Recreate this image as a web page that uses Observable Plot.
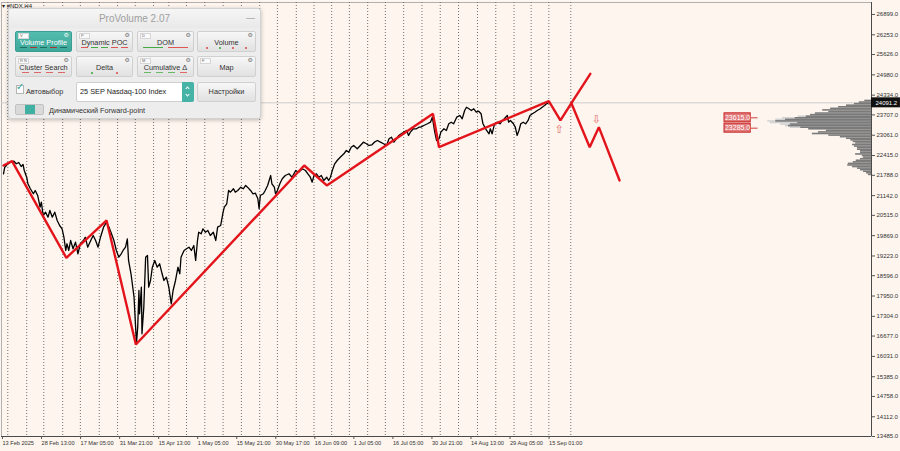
<!DOCTYPE html>
<html>
<head>
<meta charset="utf-8">
<script src="https://cdn.jsdelivr.net/npm/d3@7"></script>
<script src="https://cdn.jsdelivr.net/npm/@observablehq/plot@0.6"></script>
<style>
body{margin:0;background:#fdf5ee;}
#wrap{position:relative;width:900px;height:451px;overflow:hidden;background:#fdf5ee;font-family:"Liberation Sans",Arial,sans-serif;}
#chart svg{display:block;}
.a{position:absolute;box-sizing:border-box;}
.panel{left:8px;top:8px;width:253px;height:111px;background:#ededed;border:1px solid #d2d2d2;border-radius:3px;box-shadow:0 1px 4px rgba(0,0,0,0.25);}
.tbar{left:9px;top:9px;width:251px;height:19px;background:linear-gradient(#f6f6f6,#e9e9e9);border-radius:3px 3px 0 0;}
.title{left:8px;top:9px;width:253px;height:20px;text-align:center;font-size:10px;line-height:20px;color:#a0a0a0;}
.btn{background:linear-gradient(#f7f7f7,#e1e1e1);border:1px solid #d0d0d0;border-radius:2px;font-size:7.3px;color:#333;text-align:center;}
.btn.on{background:linear-gradient(#55bcae,#3da89a);border-color:#3a9f92;color:#fff;}
.tag{position:absolute;left:2px;top:1px;height:4px;min-width:7px;padding:0 1px;background:#fafafa;border:1px solid #d6d6d6;font-size:4px;line-height:4px;color:#666;text-align:left;}
.gear{position:absolute;right:2px;top:-1px;font-size:6px;color:#777;font-family:"DejaVu Sans";}
.lbl{position:absolute;left:0;right:0;top:6px;line-height:9px;}
.ind{position:absolute;left:3px;right:3px;bottom:2px;height:3px;display:flex;justify-content:space-around;align-items:center;}
.ind span{display:block;}
</style>
</head>
<body>
<div id="wrap">
  <div id="chart"></div>
  <div class="a" style="left:2px;top:2px;font-size:6px;color:#222;">▾ #NDX,H4</div>
  <div class="a panel"></div>
  <div class="a tbar"></div>
  <div class="a title">ProVolume 2.07</div>
  <div class="a" style="left:246px;top:13px;font-size:9px;color:#888;">—</div>
  <div id="btns"></div>
  <div class="a" style="left:16px;top:85px;width:8px;height:9px;background:#fff;border:1px solid #b5b5b5;"></div>
  <div class="a" style="left:16px;top:81px;font-size:10px;color:#2aa597;font-family:'DejaVu Sans';">✓</div>
  <div class="a" style="left:26px;top:87px;font-size:7.3px;color:#333;">Автовыбор</div>
  <div class="a" style="left:76px;top:82px;width:118px;height:20px;background:#fff;border:1px solid #cfcfcf;border-radius:2px;"></div>
  <div class="a" style="left:80px;top:87px;font-size:7.3px;color:#222;">25 SEP Nasdaq-100 Index</div>
  <div class="a" style="left:182px;top:82px;width:12px;height:20px;background:#45b3a5;border-radius:0 2px 2px 0;"></div>
  <div class="a" style="left:186px;top:87px;width:3px;height:3px;border-top:1px solid #fff;border-left:1px solid #fff;transform:rotate(45deg);"></div>
  <div class="a" style="left:186px;top:93px;width:3px;height:3px;border-bottom:1px solid #fff;border-right:1px solid #fff;transform:rotate(45deg);"></div>
  <div class="a btn" style="left:197px;top:82px;width:59px;height:20px;line-height:18px;">Настройки</div>
  <div class="a" style="left:15px;top:104px;width:29px;height:11px;background:#d9d9d9;border:1px solid #c2c2c2;border-radius:2px;"></div>
  <div class="a" style="left:25px;top:105px;width:10px;height:9px;background:#3fb0a1;"></div>
  <div class="a" style="left:49px;top:106px;font-size:7.3px;color:#333;">Динамический Forward-point</div>
</div>
<script>
// ---- data ----
const priceBars = [0,2,6,11,17,21,25,29,32,34,38,40,44,49,52,56,60,62,65,69,73,76,80,84,88,92,96,99,102,104,107,110,114,118,122,126,131,134,138,143,147,151,155,159,164,169,173,177,181,185,189,193,196,200,203,205,209,214,216,218,220,222,223,226,227,230,233,236,238,241,244,248,252,256,260,263,267,271,275,278,282,286,289,291,296,300,304,308,312,315,318,320,324,327,331,335,339,344,348,351,356,360,362,366,369,372,377,380,384,389,393,397,400,405,409,413,417,419,421,426,429,433,438,440,444,446,449,453,457,462,468,473,479,484,490,495,499,503,506,509,513,517,521,525,530,533,536,539,543,547,552,558,562,566,570,574,580,585,590,595,599,604,608,613,618,623,628,632,636,640,644,648,652,656,661,664,667,672,677,681,684,689,695,700,703,707,710,714,717,722,726,730,734,738,743,748,752,756,759,763,767,771,775,779,783,786,789,792,796,798,801,805,809,814,818,821,826,828,831,836,839,842,845,848,852,856,860,863,867,871,875,880,883,887,890,893];
const priceVals = [21836,22045,22131,22204,22236,22153,22195,22068,22131,21940,21727,21518,21359,21200,21305,21146,20774,20933,20510,20615,20456,20669,20456,20615,20351,20192,20087,19820,19398,19611,19398,19715,19452,19661,19293,19611,19715,19820,19502,19715,19874,19715,19502,19820,20138,20297,20138,19928,19715,19398,19185,19293,19398,19502,19769,19080,18657,17913,17172,16441,16960,18126,17386,18231,16750,17595,19184,19239,18231,18444,18867,19080,18867,18975,18657,18444,18549,18231,17703,18126,18444,18867,18657,19184,19398,19452,19502,19398,19556,19080,19715,19979,19928,20087,19979,20033,19874,19979,19715,20138,20192,20615,20774,20882,21305,21251,21359,21251,21305,21410,21359,21464,21410,21305,21200,21219,21041,20723,21146,21200,21305,21464,21781,21518,21410,21200,21305,21518,21677,21781,21836,21727,21940,21886,21994,21940,21836,21727,21568,21781,21836,21727,21781,21622,21727,21622,21727,21940,22153,22258,22363,22471,22576,22522,22681,22735,22630,22735,22840,22789,22735,22757,22840,22894,22840,22789,22735,22948,22999,22840,22948,23053,23107,23158,23212,23053,23158,23266,23266,23317,23317,23371,23425,23476,23635,23158,22894,22948,23158,23266,23212,23425,23476,23425,23635,23689,23584,23848,23952,23902,23848,23902,23794,23825,23743,23425,23317,23212,23107,23266,23107,23425,23476,23425,23530,23584,23689,23476,23530,23425,23317,23053,23212,23425,23476,23425,23530,23689,23743,23794,23848,23902,23952,24006,24060,24091.2];

const zigBars = [0,14,103,169,217,493,530,704,714,894,913,931,962];
const zigVals = [22099,22236,19165,20351,16410,22099,21464,23743,22681,24143,23530,24080,25014];
const altBars = [931,961,976,1010];
const altVals = [24080,22681,23317,21622];

const arrowBars = [911,972];
const arrowVals = [23244,23562];
const arrowGlyphs = ["⇧","⇩"];

const levelVals = [23615,23285];
const levelTexts = ["23615.0","23285.0"];
const levelBoxStart = 1182, levelBoxEnd = 1225, levelLineEnd = 1237;

const currentPrice = 24091.2;

const profPrices = [24150,24100,24050,24000,23950,23900,23850,23800,23750,23700,23650,23600,23550,23500,23450,23400,23350,23300,23250,23200,23150,23100,23050,23000,22950,22900,22850,22800,22750,22700,22650,22600,22550,22500,22450,22400,22350,22300,22250,22200,22150,22100,22050,22000,21950,21900,21850,21800];
const profVols = [11,20,28,41,54,67,80,70,92,100,107,125,141,157,121,133,136,116,103,74,87,97,70,51,41,34,30,26,31,28,23,23,18,18,26,15,13,18,25,30,38,39,31,23,18,13,8,5];
const tailPrices = [23650,23600,23550,23500,23450,23400,23350,23300];
const tailVols = [120,146,157,170,166,149,141,133];

const gridBars = [7,38,66,97,126,157,187,216,246,271,300,330,360,390,420,449,480,509,538,567,597,626,656,686,716,746,777,807,837,865,894,930];

const xTickBars = [0,64,128,192,256,320,384,448,512,576,640,704,768,832,896];
const xTickLabels = ["13 Feb 2025","28 Feb 13:00","17 Mar 05:00","31 Mar 21:00","15 Apr 13:00","1 May 05:00","15 May 21:00","30 May 17:00","16 Jun 09:00","1 Jul 05:00","16 Jul 05:00","30 Jul 21:00","14 Aug 13:00","29 Aug 05:00","15 Sep 01:00"];
const yTicks = [26899,26253,25626,24980,24334,23707,23061,22415,21788,21142,20515,19869,19223,18596,17950,17304,16677,16031,15385,14758,14112,13485];

// ---- build ----
const X_MIN = -3.3, X_MAX = 1423, Y_MIN = 13485, Y_MAX = 27280;
const price = priceBars.map((b,i)=>({bar:b, v:priceVals[i]}));
const zig = zigBars.map((b,i)=>({bar:b, v:zigVals[i], s:"a"})).concat(altBars.map((b,i)=>({bar:b, v:altVals[i], s:"b"})));
const arrows = arrowBars.map((b,i)=>({bar:b, v:arrowVals[i], g:arrowGlyphs[i]}));
const levels = levelVals.map((v,i)=>({v, t:levelTexts[i]}));
const prof = profPrices.map((p,i)=>({p, vol:profVols[i]}));
const tail = tailPrices.map((p,i)=>({p, vol:tailVols[i]}));
const xLab = new Map(xTickBars.map((b,i)=>[b, xTickLabels[i]]));
const pxPrice = 31.786; // price units per pixel

const chart = Plot.plot({
  width: 900, height: 451,
  marginTop: 2, marginRight: 29, marginBottom: 15, marginLeft: 1,
  style: {background: "transparent", fontFamily: "Liberation Sans, Arial, sans-serif", overflow: "visible"},
  x: {domain: [X_MIN, X_MAX], axis: null},
  y: {domain: [Y_MIN, Y_MAX], axis: null},
  marks: [
    Plot.frame({stroke: "#b0b0b0"}),
    Plot.ruleX(gridBars, {stroke: "#707070", strokeDasharray: "1,2"}),
    Plot.ruleY([currentPrice], {stroke: "#cdcdcd"}),
    Plot.rect(tail, {x1: d => X_MAX - d.vol, x2: X_MAX, y1: d => d.p - 25, y2: d => d.p + 25, fill: "#d2d2d2"}),
    Plot.rect(prof, {x1: d => X_MAX - d.vol, x2: X_MAX, y1: d => d.p - 25, y2: d => d.p + 25, fill: "#7a7a7a"}),
    Plot.line(price, {x: "bar", y: "v", stroke: "#000", strokeWidth: 1.3}),
    Plot.line(zig, {x: "bar", y: "v", z: "s", stroke: "#e3141b", strokeWidth: 2.4, strokeLinejoin: "miter"}),
    Plot.text(arrows, {x: "bar", y: "v", text: "g", fill: "#e56a6a", fontSize: 11, fontFamily: "DejaVu Sans"}),
    Plot.ruleY(levels, {y: "v", x1: levelBoxEnd, x2: levelLineEnd, stroke: "#d23c3c"}),
    Plot.rect(levels, {x1: levelBoxStart, x2: levelBoxEnd, y1: d => d.v - 4.5*pxPrice, y2: d => d.v + 4.5*pxPrice, fill: "#e27a7a", stroke: "#c82828"}),
    Plot.text(levels, {x: (levelBoxStart+levelBoxEnd)/2, y: "v", text: "t", fill: "#fff", fontSize: 7}),
    Plot.ruleX([X_MAX], {stroke: "#4a4a4a"}),
    Plot.ruleY([Y_MIN], {stroke: "#4a4a4a"}),
    Plot.axisY(yTicks, {anchor: "right", label: null, tickSize: 3, tickPadding: 2, tickFormat: d => d.toFixed(1), fontSize: 6, fill: "#333", stroke: "#555"}),
    Plot.axisX(xTickBars, {anchor: "bottom", label: null, tickSize: 3, tickPadding: 2, tickFormat: d => xLab.get(d), textAnchor: "start", dx: -1, fontSize: 5.6, fill: "#333", stroke: "#555"}),
    Plot.rect([currentPrice], {x1: X_MAX, x2: X_MAX + 47.5, y1: d => d - 5*pxPrice, y2: d => d + 5*pxPrice, fill: "#111"}),
    Plot.text([currentPrice], {x: X_MAX, y: d => d, text: d => d.toFixed(1), dx: 4, textAnchor: "start", fill: "#fff", fontSize: 6})
  ]
});
document.getElementById("chart").appendChild(chart);

// ---- ProVolume panel buttons ----
const buttons = [
  {t:"Volume Profile", tag:"V", l:15, top:31, w:57, on:true, ind:{type:"dash", c:["#1f6d62","#a33","#1f6d62","#a33","#1f6d62"]}},
  {t:"Dynamic POC", tag:"P", l:76, top:31, w:57, ind:{type:"dash", c:["#d55","#4a4","#4a4","#d55","#d55"]}},
  {t:"DOM", tag:"D", l:137, top:31, w:57, ind:{type:"long", c:["#4a4","#d55"]}},
  {t:"Volume", tag:"", l:197, top:31, w:59, ind:{type:"dot", c:["#d44","#3a3","#d44","#d44"]}},
  {t:"Cluster Search", tag:"R N", l:15, top:56, w:57, ind:{type:"dash", c:["#d66","#d66","#d66","#d66"]}},
  {t:"Delta", tag:"", l:76, top:56, w:57, ind:{type:"dot", c:["#3a3","#d44"]}},
  {t:"Cumulative Δ", tag:"M", l:137, top:56, w:57, ind:{type:"dash", c:["#6b6","#6b6","#6b6","#d66"]}},
  {t:"Map", tag:"F", l:197, top:56, w:59, ind:null}
];
const holder = document.getElementById("btns");
buttons.forEach(b => {
  const d = document.createElement("div");
  d.className = "a btn" + (b.on ? " on" : "");
  Object.assign(d.style, {left: b.l+"px", top: b.top+"px", width: b.w+"px", height: "21px"});
  if (b.tag) { const tg = document.createElement("div"); tg.className="tag"; tg.textContent=b.tag; d.appendChild(tg); }
  const g = document.createElement("div"); g.className="gear"; g.textContent="⚙"; g.style.color = b.on ? "#e8f6f4" : "#777"; d.appendChild(g);
  const l = document.createElement("div"); l.className="lbl"; l.textContent=b.t; d.appendChild(l);
  if (b.ind) {
    const ind = document.createElement("div"); ind.className="ind";
    b.ind.c.forEach(c => {
      const s = document.createElement("span");
      if (b.ind.type==="dash") Object.assign(s.style,{width:"7px",height:"1px",background:c});
      else if (b.ind.type==="long") Object.assign(s.style,{width:"20px",height:"1px",background:c});
      else Object.assign(s.style,{width:"2px",height:"2px",borderRadius:"1px",background:c});
      ind.appendChild(s);
    });
    d.appendChild(ind);
  }
  holder.appendChild(d);
});
</script>
</body>
</html>
